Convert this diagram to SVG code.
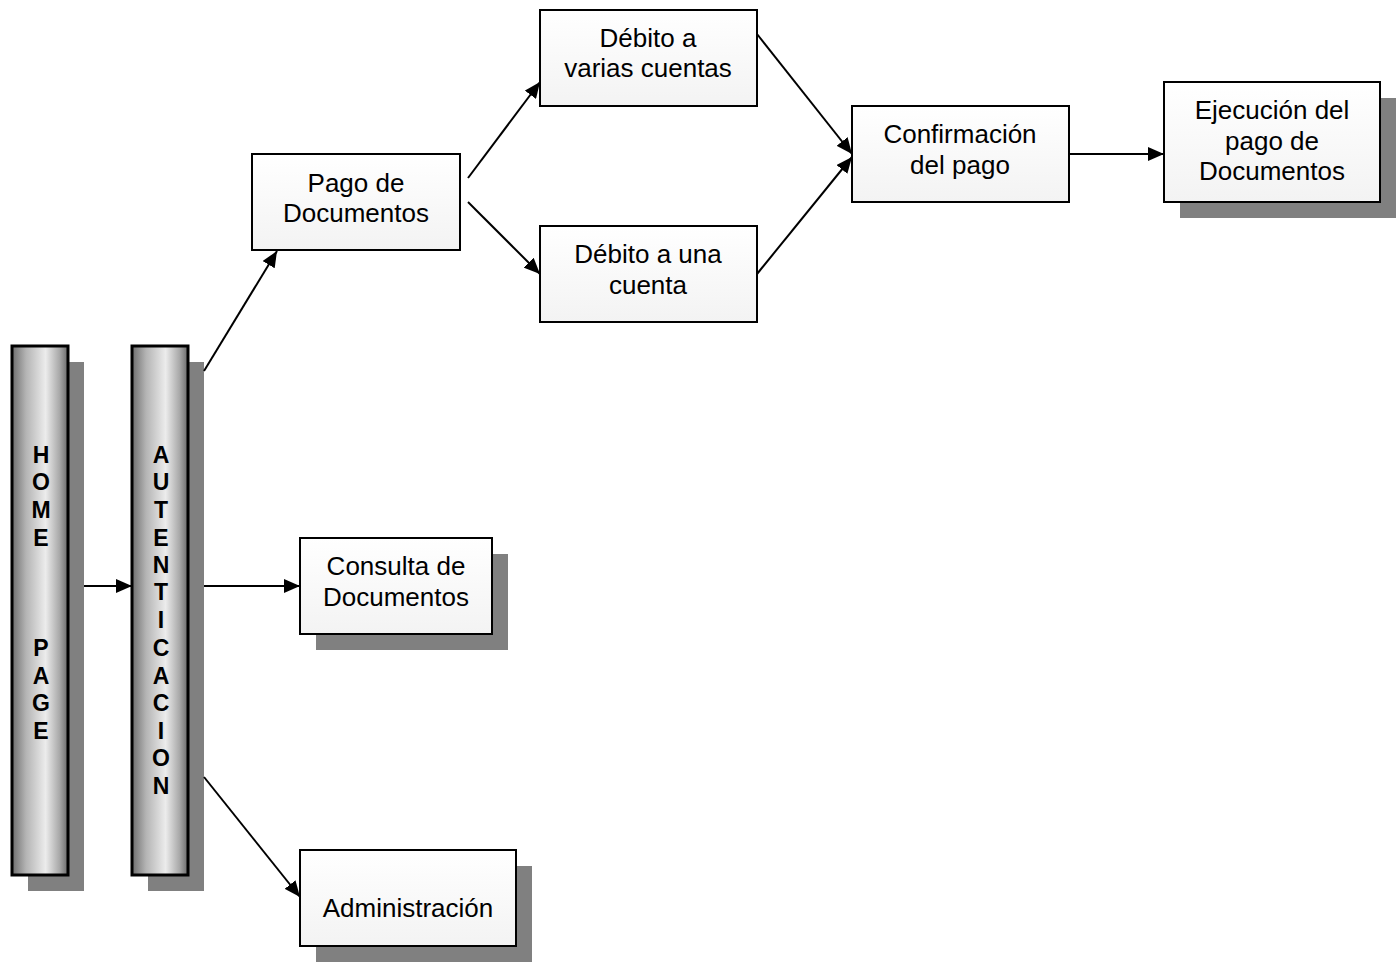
<svg xmlns="http://www.w3.org/2000/svg" width="1400" height="962" viewBox="0 0 1400 962">
<defs>
<linearGradient id="bar" x1="0" y1="0" x2="1" y2="0">
<stop offset="0" stop-color="#6e6e6e"/>
<stop offset="0.25" stop-color="#b4b4b4"/>
<stop offset="0.6" stop-color="#ececec"/>
<stop offset="0.85" stop-color="#a8a8a8"/>
<stop offset="1" stop-color="#6a6a6a"/>
</linearGradient>
<linearGradient id="box" x1="0" y1="0" x2="0" y2="1">
<stop offset="0" stop-color="#ffffff"/>
<stop offset="1" stop-color="#f3f3f3"/>
</linearGradient>
<marker id="ah" markerWidth="16" markerHeight="14" refX="16" refY="7" orient="auto" markerUnits="userSpaceOnUse">
<path d="M0,0 L16,7 L0,14 Z" fill="#000"/>
</marker>
<style>
.sh{fill:#808080}
.bx{fill:url(#box);stroke:#000;stroke-width:2}
.br{fill:url(#bar);stroke:#000;stroke-width:3}
.t{font-family:"Liberation Sans",Arial,sans-serif;font-size:26px;fill:#000;text-anchor:middle}
.b{font-family:"Liberation Sans",Arial,sans-serif;font-size:23px;font-weight:bold;fill:#000;text-anchor:middle}
.c{stroke:#000;stroke-width:2;fill:none;marker-end:url(#ah)}
</style>
</defs>
<g id="home">
<rect class="sh" x="28" y="362" width="56" height="529"/>
<rect class="br" x="12" y="346" width="56" height="529"/>
<text class="b" x="41" y="463">H</text>
<text class="b" x="41" y="490">O</text>
<text class="b" x="41" y="518">M</text>
<text class="b" x="41" y="546">E</text>
<text class="b" x="41" y="656">P</text>
<text class="b" x="41" y="684">A</text>
<text class="b" x="41" y="711">G</text>
<text class="b" x="41" y="739">E</text>
</g>
<g id="autenticacion">
<rect class="sh" x="148" y="362" width="56" height="529"/>
<rect class="br" x="132" y="346" width="56" height="529"/>
<text class="b" x="161" y="463">A</text>
<text class="b" x="161" y="490">U</text>
<text class="b" x="161" y="518">T</text>
<text class="b" x="161" y="546">E</text>
<text class="b" x="161" y="573">N</text>
<text class="b" x="161" y="600">T</text>
<text class="b" x="161" y="628">I</text>
<text class="b" x="161" y="656">C</text>
<text class="b" x="161" y="684">A</text>
<text class="b" x="161" y="711">C</text>
<text class="b" x="161" y="739">I</text>
<text class="b" x="161" y="766">O</text>
<text class="b" x="161" y="794">N</text>
</g>
<g id="pago">
<rect class="bx" x="252" y="154" width="208" height="96"/>
<text class="t" x="356" y="192">Pago de</text>
<text class="t" x="356" y="222">Documentos</text>
</g>
<g id="debito-varias">
<rect class="bx" x="540" y="10" width="217" height="96"/>
<text class="t" x="648" y="47">Débito a</text>
<text class="t" x="648" y="77">varias cuentas</text>
</g>
<g id="debito-una">
<rect class="bx" x="540" y="226" width="217" height="96"/>
<text class="t" x="648" y="263">Débito a una</text>
<text class="t" x="648" y="294">cuenta</text>
</g>
<g id="confirmacion">
<rect class="bx" x="852" y="106" width="217" height="96"/>
<text class="t" x="960" y="143">Confirmación</text>
<text class="t" x="960" y="174">del pago</text>
</g>
<g id="ejecucion">
<rect class="sh" x="1180" y="98" width="216" height="120"/>
<rect class="bx" x="1164" y="82" width="216" height="120"/>
<text class="t" x="1272" y="119">Ejecución del</text>
<text class="t" x="1272" y="150">pago de</text>
<text class="t" x="1272" y="180">Documentos</text>
</g>
<g id="consulta">
<rect class="sh" x="316" y="554" width="192" height="96"/>
<rect class="bx" x="300" y="538" width="192" height="96"/>
<text class="t" x="396" y="575">Consulta de</text>
<text class="t" x="396" y="606">Documentos</text>
</g>
<g id="administracion">
<rect class="sh" x="316" y="866" width="216" height="96"/>
<rect class="bx" x="300" y="850" width="216" height="96"/>
<text class="t" x="408" y="917">Administración</text>
</g>
<g id="connectors">
<line class="c" x1="84" y1="586" x2="132" y2="586"/>
<line class="c" x1="204" y1="371" x2="277" y2="251"/>
<line class="c" x1="204" y1="586" x2="300" y2="586"/>
<line class="c" x1="204" y1="777" x2="300" y2="897"/>
<line class="c" x1="468" y1="178" x2="540" y2="82"/>
<line class="c" x1="468" y1="202" x2="540" y2="274"/>
<line class="c" x1="757" y1="34" x2="852" y2="154"/>
<line class="c" x1="757" y1="274" x2="852" y2="157"/>
<line class="c" x1="1069" y1="154" x2="1164" y2="154"/>
</g>
</svg>
